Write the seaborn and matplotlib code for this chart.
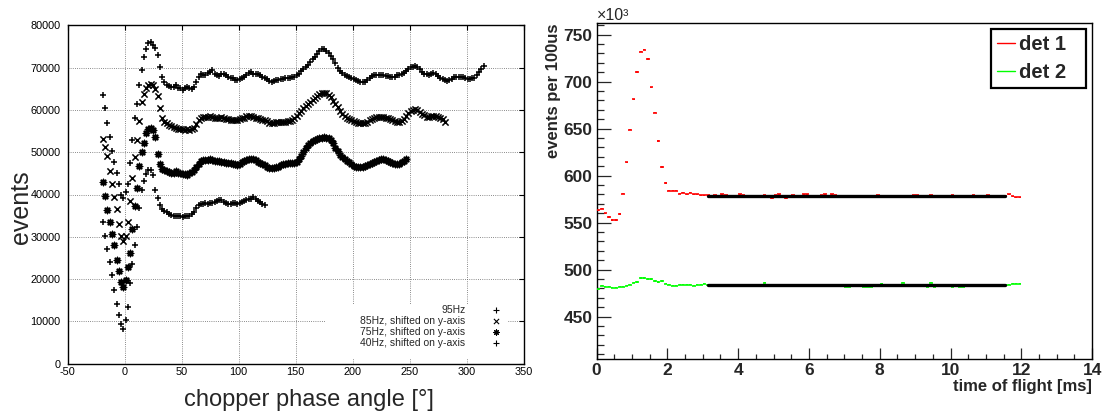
import numpy as np
import matplotlib
matplotlib.use('Agg')
import matplotlib.pyplot as plt
import seaborn as sns
from matplotlib.lines import Line2D
from matplotlib.patches import Rectangle
from matplotlib.ticker import MultipleLocator

sns.set_style('white')
plt.rcParams['font.family'] = ['Liberation Sans', 'DejaVu Sans']
plt.rcParams['axes.unicode_minus'] = False

# ---------------- left panel: events vs chopper phase angle (in 1000 events), 2 deg steps from -19 deg
ev_95hz = [
    63.5, 60.5, 57.0, 53.5, 50.2, 47.7, 45.0, 42.4, 40.0, 39.1,
    40.5, 42.5, 47.5, 53.0, 58.0, 61.5, 66.0, 69.5, 72.5, 74.5,
    75.8, 76.0, 75.4, 74.6, 73.0, 70.2, 67.8, 66.5, 65.9, 65.6,
    65.5, 65.4, 65.9, 65.3, 65.2, 64.8, 65.1, 65.5, 65.1, 65.0,
    65.4, 66.6, 67.9, 68.6, 68.2, 68.3, 68.8, 68.9, 69.4, 68.6,
    68.2, 68.0, 68.6, 68.5, 68.2, 67.8, 67.6, 67.6, 67.2, 67.1,
    67.3, 67.6, 67.9, 68.3, 68.7, 69.0, 68.6, 68.5, 68.4, 68.2,
    67.9, 67.6, 67.3, 66.8, 66.7, 66.8, 67.0, 67.2, 67.3, 67.4,
    67.5, 67.5, 67.6, 67.8, 67.9, 68.2, 68.6, 69.1, 69.6, 70.1,
    70.6, 71.3, 72.0, 72.6, 73.3, 73.9, 74.4, 74.3, 73.9, 73.4,
    72.8, 72.0, 71.0, 70.0, 69.3, 68.8, 68.3, 68.0, 67.8, 67.6,
    67.4, 67.1, 66.9, 66.7, 66.5, 66.7, 67.0, 67.6, 68.0, 68.2,
    68.2, 68.3, 68.3, 68.2, 68.1, 68.0, 67.9, 67.8, 67.9, 68.2,
    68.3, 68.4, 68.8, 69.3, 69.8, 70.1, 70.2, 70.3, 70.2, 69.8,
    69.0, 68.6, 68.4, 68.3, 68.5, 68.7, 68.5, 68.1, 67.6, 67.3,
    67.1, 66.9, 67.0, 67.4, 67.8, 67.9, 67.9, 67.9, 67.8, 67.5,
    67.3, 67.3, 67.5, 67.6, 68.2, 69.0, 69.8, 70.5,
]
ev_85hz = [
    53.2, 51.3, 49.0, 45.5, 42.4, 39.5, 36.5, 33.0, 30.2, 28.9,
    30.2, 33.5, 38.5, 43.8, 48.8, 53.0, 57.5, 61.8, 63.8, 65.3,
    66.0, 66.2, 65.9, 65.0, 63.2, 60.5, 58.0, 57.2, 56.8, 56.4,
    56.2, 56.0, 55.8, 55.6, 55.5, 55.4, 55.3, 55.4, 55.3, 55.5,
    55.8, 56.6, 57.6, 58.2, 58.4, 58.3, 58.4, 58.5, 58.4, 58.2,
    58.0, 58.2, 58.3, 58.0, 57.9, 57.8, 57.6, 57.7, 57.6, 57.6,
    57.8, 58.0, 58.2, 58.5, 58.6, 58.5, 58.3, 58.2, 58.0, 57.9,
    57.7, 57.6, 57.3, 57.0, 56.8, 56.9, 57.1, 57.2, 57.2, 57.2,
    57.2, 57.3, 57.5, 57.6, 58.0, 58.6, 59.2, 59.8, 60.5, 61.0,
    61.3, 61.8, 62.4, 62.8, 63.3, 63.8, 64.0, 64.0, 63.9, 63.6,
    63.0, 62.2, 61.5, 60.6, 59.8, 59.0, 58.5, 58.1, 57.8, 57.6,
    57.3, 57.1, 56.9, 56.8, 56.8, 56.9, 57.2, 57.6, 57.9, 58.1,
    58.3, 58.4, 58.4, 58.3, 58.2, 58.0, 57.9, 57.6, 57.3, 57.2,
    57.2, 57.3, 57.8, 58.6, 59.3, 59.8, 60.0, 60.2, 60.1, 59.6,
    59.1, 58.7, 58.4, 58.4, 58.5, 58.6, 58.5, 58.3, 58.2, 57.8,
    57.2,
]
ev_75hz = [
    43.0, 39.6, 36.4, 33.6, 30.6, 28.0, 24.6, 21.8, 19.2, 18.2,
    19.8, 22.8, 26.2, 31.8, 37.2, 41.6, 46.8, 50.0, 52.3, 54.6,
    55.4, 55.7, 55.2, 53.5, 49.5, 47.2, 46.0, 45.7, 45.5, 45.4,
    45.2, 45.1, 45.5, 45.2, 45.0, 44.9, 44.8, 44.7, 45.0, 45.3,
    45.7, 46.5, 47.3, 47.9, 48.1, 48.2, 48.2, 48.3, 48.1, 48.0,
    47.9, 48.0, 47.8, 47.6, 47.5, 47.4, 47.4, 47.3, 47.1, 47.0,
    47.3, 47.7, 48.0, 48.2, 48.3, 48.4, 48.3, 48.1, 47.7, 47.4,
    47.2, 46.9, 46.5, 46.3, 46.2, 46.3, 46.4, 46.6, 46.9, 47.1,
    47.2, 47.4, 47.5, 47.4, 47.4, 47.6, 48.4, 49.2, 50.0, 50.9,
    51.6, 52.1, 52.6, 52.9, 53.2, 53.4, 53.4, 53.5, 53.4, 53.3,
    53.0, 52.2, 51.1, 50.2, 49.4, 48.8, 48.3, 47.9, 47.6, 47.1,
    46.7, 46.6, 46.5, 46.6, 46.6, 46.7, 46.9, 47.1, 47.4, 47.6,
    47.9, 48.2, 48.4, 48.3, 48.1, 47.9, 47.6, 47.4, 47.2, 47.1,
    47.3, 47.6, 48.0, 48.3,
]
ev_40hz = [
    33.6, 30.2, 27.0, 24.0, 21.0, 17.5, 14.2, 11.5, 9.3, 8.3,
    10.3, 13.5, 19.0, 23.5, 28.0, 32.2, 36.7, 41.0, 43.3, 44.9,
    45.8, 45.7, 44.5, 41.0, 39.2, 37.6, 36.6, 36.1, 35.8, 35.3,
    35.2, 35.0, 34.9, 35.0, 34.8, 34.7, 34.8, 34.9, 35.0, 35.4,
    35.9, 36.7, 37.4, 37.8, 37.8, 37.9, 37.8, 37.9, 38.1, 38.3,
    38.5, 38.7, 38.6, 38.3, 38.0, 37.8, 37.7, 37.9, 37.9, 37.8,
    38.0, 38.3, 38.5, 38.7, 38.9, 39.0, 39.3, 38.9, 38.5, 38.2,
    37.8, 37.5,
]
first_angle = -19
angle_step = 2
labels_left = ['95Hz', '85Hz, shifted on y-axis', '75Hz, shifted on y-axis', '40Hz, shifted on y-axis']

# ---------------- right panel: events per 100us (x10^3), 0.1 ms bins
det1 = [
    563, 565, 560, 556, 553, 553, 559, 581, 614, 649,
    681, 710, 732, 734, 724, 694, 667, 637, 609, 592,
    584, 584, 584, 581, 582, 580, 582, 580, 580, 579,
    579, 579, 578, 579, 578, 580, 579, 577, 578, 578,
    580, 579, 578, 578, 577, 578, 578, 579, 578, 576,
    579, 580, 578, 576, 578, 579, 578, 578, 580, 580,
    578, 577, 578, 579, 580, 578, 580, 579, 578, 577,
    578, 577, 578, 578, 577, 578, 578, 578, 577, 579,
    578, 578, 577, 578, 578, 577, 578, 578, 578, 579,
    579, 578, 577, 578, 579, 578, 577, 578, 578, 578,
    579, 578, 577, 578, 578, 578, 579, 578, 578, 578,
    579, 578, 577, 578, 578, 578, 580, 578, 577, 577,
]
det2 = [
    479, 483, 482, 482, 481, 481, 482, 482, 483, 484,
    486, 487, 491, 491, 490, 490, 488, 487, 488, 485,
    484, 483, 483, 484, 484, 484, 484, 483, 484, 484,
    485, 484, 484, 484, 484, 484, 484, 484, 484, 484,
    484, 484, 484, 484, 484, 484, 484, 486, 484, 484,
    484, 484, 484, 484, 484, 484, 484, 484, 484, 484,
    484, 484, 484, 484, 484, 484, 484, 484, 484, 484,
    482, 482, 484, 484, 484, 482, 482, 482, 484, 484,
    485, 484, 484, 484, 484, 484, 486, 484, 484, 484,
    484, 484, 484, 482, 486, 482, 484, 484, 484, 484,
    482, 484, 482, 482, 484, 484, 484, 484, 484, 484,
    484, 484, 484, 484, 484, 484, 484, 485, 485, 485,
]
bin_width = 0.1
det1_err = 0.76
det2_err = 0.70
fit_range = [3.15, 11.55]
fit_det1 = 578.3
fit_det2 = 484.1

W, H = 1104, 417
fig = plt.figure(figsize=(W / 100, H / 100), dpi=100)

# ================= left panel (gnuplot look)
ax1 = fig.add_axes([67.5 / W, 1 - 363.6 / H, 456 / W, 338.2 / H])
series = [(ev_95hz, '+'), (ev_85hz, 'x'), (ev_75hz, (8, 2, 0)), (ev_40hz, '+')]
for (vals, mk), lab in zip(series, labels_left):
    ang = first_angle + angle_step * np.arange(len(vals))
    sns.scatterplot(x=ang, y=np.array(vals) * 1000, marker=mk, s=20, color='black',
                    linewidth=1.1, ax=ax1, label=lab, zorder=3)

ax1.set_xlim(-50, 350)
ax1.set_ylim(0, 80000)
ax1.xaxis.set_major_locator(MultipleLocator(50))
ax1.yaxis.set_major_locator(MultipleLocator(10000))
ax1.set_axisbelow(True)
ax1.grid(True, color='#666666', linestyle=(0, (1, 1.6)), linewidth=0.6)
ax1.tick_params(direction='in', length=3.5, width=0.8, labelsize=7.8,
                top=True, right=True, colors='black')
ax1.tick_params(axis='x', pad=2.5)
ax1.tick_params(axis='y', pad=5)
for sp in ax1.spines.values():
    sp.set_color('black')
    sp.set_linewidth(1.0)
# key box hides the grid behind it
ax1.add_patch(Rectangle((0.5647, 0.013), 0.9638 - 0.5647, 0.1733 - 0.013,
                        transform=ax1.transAxes, facecolor='white', edgecolor='none', zorder=1))
leg1 = ax1.legend(loc='lower right', bbox_to_anchor=(0.9616, 0.047), frameon=False, markerfirst=False,
                  fontsize=7.5, handlelength=2, handletextpad=1.9, labelspacing=0.08,
                  borderpad=0, borderaxespad=0)
for h in leg1.legend_handles:
    h.set_sizes([14])
    h.set_linewidth(0.8)
ax1.set_xlabel('chopper phase angle [°]', fontsize=17)
ax1.set_ylabel('events', fontsize=18)
ax1.xaxis.set_label_coords(0.5296, -0.075)
ax1.yaxis.set_label_coords(-0.075, 0.4616)

# ================= right panel (ROOT look)
ax2 = fig.add_axes([596.5 / W, 1 - 359 / H, 495.7 / W, 335.7 / H])
tof = bin_width * (np.arange(len(det1)) + 0.5)
ax2.errorbar(tof, det1, xerr=bin_width / 2, yerr=det1_err, fmt='none', ecolor='red',
             elinewidth=1.2, capsize=0, zorder=3)
ax2.errorbar(tof, det2, xerr=bin_width / 2, yerr=det2_err, fmt='none', ecolor='#00ff00',
             elinewidth=1.2, capsize=0, zorder=3)
sns.lineplot(x=fit_range, y=[fit_det1, fit_det1], color='black', linewidth=2.4, ax=ax2, zorder=4)
sns.lineplot(x=fit_range, y=[fit_det2, fit_det2], color='black', linewidth=2.4, ax=ax2, zorder=4)

ax2.set_xlim(0, 14)
ax2.set_ylim(405, 762)
ax2.xaxis.set_major_locator(MultipleLocator(2))
ax2.xaxis.set_minor_locator(MultipleLocator(0.5))
ax2.yaxis.set_major_locator(MultipleLocator(50))
ax2.yaxis.set_minor_locator(MultipleLocator(10))
ax2.tick_params(axis='y', which='major', direction='in', length=10.4, width=0.9, pad=3, left=True)
ax2.tick_params(axis='y', which='minor', direction='in', length=5, width=0.9, left=True)
ax2.tick_params(axis='x', which='major', direction='in', length=7.7, width=0.9, pad=3, bottom=True)
ax2.tick_params(axis='x', which='minor', direction='in', length=3.6, width=0.9, bottom=True)
for lab in ax2.get_xticklabels() + ax2.get_yticklabels():
    lab.set_fontweight('bold')
    lab.set_fontsize(12.5)
for sp in ax2.spines.values():
    sp.set_color('black')
    sp.set_linewidth(1.0)
ax2.set_xlabel('time of flight [ms]', fontsize=12, fontweight='bold', loc='right')
ax2.set_ylabel('events per 100us', fontsize=12, fontweight='bold', loc='top')
ax2.xaxis.set_label_coords(1.0, -0.06)
ax2.yaxis.set_label_coords(-0.072, 1.0)
ax2.text(0.0, 1.0, '×10³', transform=ax2.transAxes, ha='left', va='bottom', fontsize=11.5)

handles = [Line2D([], [], color='red', lw=1), Line2D([], [], color='#00ff00', lw=1)]
leg = ax2.legend(handles, ['det 1', 'det 2'], loc='upper left',
                 bbox_to_anchor=(990.7 / W, 1 - 92 / H, 95 / W, 62.7 / H),
                 bbox_transform=fig.transFigure, mode='expand', borderaxespad=0,
                 prop={'weight': 'bold', 'size': 14.5}, handlelength=0.9, handletextpad=0.2,
                 labelspacing=0.42, borderpad=0.3, fancybox=False, framealpha=1)
leg.get_frame().set_edgecolor('black')
leg.get_frame().set_linewidth(1.6)

fig.savefig('out.png', dpi=100)
